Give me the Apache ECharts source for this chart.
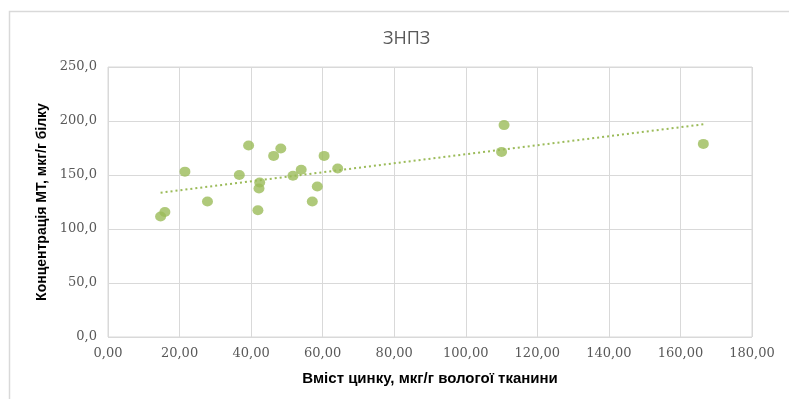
<!DOCTYPE html>
<html>
<head>
<meta charset="utf-8">
<script src="https://cdn.jsdelivr.net/npm/echarts@6/dist/echarts.min.js"></script>
<style>html,body{margin:0;padding:0;background:#fff}#c{width:789px;height:399px}</style>
</head>
<body>
<div id="c"></div>
<script>
var titleText = 'ЗНПЗ';
var xName = 'Вміст цинку, мкг/г вологої тканини';
var yName = 'Концентрація МТ, мкг/г білку';
var zincX = [14.7, 15.9, 21.5, 27.8, 36.7, 39.3, 41.9, 42.2, 42.4, 46.3, 48.3, 51.7, 54.0, 57.1, 58.5, 60.4, 64.2, 110.0, 110.7, 166.4];
var mtY  = [111.5, 115.8, 153.1, 125.4, 150.0, 177.3, 117.4, 137.5, 143.1, 167.7, 174.5, 149.3, 154.9, 125.4, 139.4, 167.7, 156.1, 171.4, 196.2, 178.8];
var xTicks = [0, 20, 40, 60, 80, 100, 120, 140, 160, 180];
var yTicks = [0, 50, 100, 150, 200, 250];

var pts = zincX.map(function (x, i) { return [x, mtY[i]]; });
// linear trend (least squares)
var n = zincX.length, mx = 0, my = 0;
for (var i = 0; i < n; i++) { mx += zincX[i]; my += mtY[i]; }
mx /= n; my /= n;
var sxy = 0, sxx = 0;
for (var i = 0; i < n; i++) { sxy += (zincX[i] - mx) * (mtY[i] - my); sxx += (zincX[i] - mx) * (zincX[i] - mx); }
var b = sxy / sxx, a = my - b * mx;
var xmin = Math.min.apply(null, zincX), xmax = Math.max.apply(null, zincX);
var trend = [[xmin, a + b * xmin], [xmax, a + b * xmax]];

var green = '#9bbb59';
var chart = echarts.init(document.getElementById('c'));
chart.setOption({
  animation: false,
  title: { text: titleText, top: 25, left: 378,
    textStyle: { fontFamily: 'Open Sans', fontSize: 18, fontWeight: 'normal', color: '#595959' } },
  graphic: [{ type: 'rect', shape: { x: 9.5, y: 11.5, width: 800, height: 400 },
    style: { fill: null, stroke: '#d9d9d9', lineWidth: 1.5 }, silent: true }],
  grid: { left: 108, right: 37, top: 67, bottom: 62, show: true, borderColor: '#d9d9d9', borderWidth: 1 },
  xAxis: {
    type: 'value', min: 0, max: 180, interval: 20,
    name: xName, nameLocation: 'middle', nameGap: 34,
    nameTextStyle: { fontFamily: 'Liberation Sans', fontWeight: 'bold', fontSize: 15, color: '#000' },
    axisLine: { show: false }, axisTick: { show: false },
    axisLabel: { margin: 10, fontFamily: 'DejaVu Serif', fontSize: 13, color: '#595959',
      formatter: function (v) { return v.toFixed(2).replace('.', ','); } },
    splitLine: { lineStyle: { color: '#d9d9d9', width: 1 } }
  },
  yAxis: {
    type: 'value', min: 0, max: 250, interval: 50,
    name: yName, nameLocation: 'middle', nameGap: 52, nameRotate: 90,
    nameTextStyle: { fontFamily: 'Liberation Sans', fontWeight: 'bold', fontSize: 14, color: '#000' },
    axisLine: { show: false }, axisTick: { show: false },
    axisLabel: { margin: 11, fontFamily: 'DejaVu Serif', fontSize: 13, color: '#595959',
      formatter: function (v) { return v.toFixed(1).replace('.', ','); } },
    splitLine: { lineStyle: { color: '#d9d9d9', width: 1 } }
  },
  series: [
    { type: 'line', data: trend, symbol: 'none', silent: true, z: 1,
      lineStyle: { color: green, width: 2, type: [2, 3] } },
    { type: 'scatter', data: pts, symbol: 'circle', symbolSize: [11, 10], z: 2,
      itemStyle: { color: green } }
  ]
});
</script>
</body>
</html>
